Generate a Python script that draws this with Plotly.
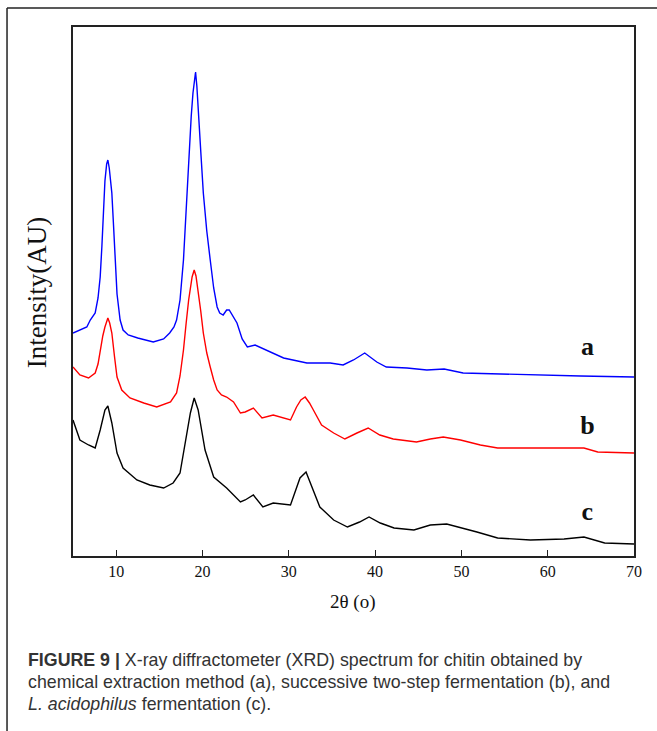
import plotly.graph_objects as go

# ---- data (2theta in degrees, intensity in arbitrary units) ----
theta_a = [5.0, 6.6, 7.0, 7.57, 7.9, 8.15, 8.35, 8.5, 8.7, 8.9, 9.04, 9.2, 9.35, 9.5, 9.7, 9.88,
           10.1, 10.46, 10.8, 11.4, 12.5, 14.3, 15.5, 16.2, 16.7, 17.0, 17.4, 17.8, 18.1, 18.4,
           18.7, 18.9, 19.1, 19.2, 19.35, 19.54, 19.8, 20.1, 20.5, 20.9, 21.3, 21.7, 22.0, 22.4,
           22.8, 23.1, 23.5, 24.0, 24.6, 25.2, 26.1, 27.45, 29.4, 32.1, 34.8, 36.3, 37.5, 38.8,
           40.2, 41.3, 43.7, 46.0, 48.0, 50.2, 58.0, 63.8, 70.0]
int_a = [223, 229, 236, 243, 258, 279, 310, 346, 375, 392, 396, 388, 375, 363, 330, 296,
         262, 236, 226, 221, 218, 214, 217, 223, 229, 236, 256, 296, 345, 396,
         440, 463, 482, 484, 470, 446, 405, 363, 325, 296, 268, 249, 243, 241,
         246, 246, 240, 233, 217, 209, 211, 206, 198, 193, 193, 191, 196, 203,
         194, 189, 188, 186, 187, 183, 181, 180, 179]

theta_b = [5.0, 5.8, 6.8, 7.57, 7.9, 8.15, 8.45, 8.7, 9.04, 9.25, 9.5, 9.8, 10.1, 10.65, 11.6,
           13.2, 14.7, 16.3, 17.0, 17.4, 17.8, 18.1, 18.4, 18.8, 19.04, 19.25, 19.5, 19.8, 20.1,
           20.5, 20.9, 21.3, 21.7, 22.2, 22.8, 23.6, 24.4, 24.95, 25.9, 26.9, 28.2, 29.4, 30.2,
           30.9, 31.4, 31.9, 32.4, 32.85, 33.8, 35.2, 36.5, 37.9, 39.2, 40.55, 42.1, 44.8, 46.4,
           47.9, 49.9, 52.2, 54.2, 58.0, 64.2, 65.8, 70.0]
int_b = [189, 181, 178, 183, 192, 206, 220, 229, 238, 233, 223, 200, 179, 166, 158,
         153, 149, 154, 163, 180, 206, 232, 256, 279, 286, 280, 266, 245, 223,
         203, 189, 176, 166, 161, 159, 154, 143, 144, 148, 138, 141, 138, 136,
         149, 156, 159, 153, 146, 131, 123, 117, 123, 128, 121, 117, 114, 117,
         119, 116, 111, 108, 108, 108, 104, 103]

theta_c = [5.0, 5.8, 6.8, 7.57, 8.15, 8.7, 9.04, 9.5, 10.1, 10.8, 12.4, 13.9, 15.5, 16.6, 17.4,
           18.0, 18.6, 19.04, 19.5, 20.3, 21.3, 22.8, 24.0, 24.4, 24.95, 25.9, 27.0, 28.2, 30.2,
           30.7, 31.3, 32.0, 32.7, 33.6, 35.2, 36.8, 38.2, 39.3, 40.6, 42.2, 44.5, 46.4, 48.3,
           50.2, 51.8, 54.2, 58.0, 61.9, 64.2, 66.6, 70.0]
int_c = [136, 116, 111, 108, 126, 146, 150, 133, 103, 88, 76, 71, 68, 73, 83,
         113, 143, 158, 146, 106, 79, 68, 58, 54, 56, 61, 49, 53, 51,
         63, 78, 84, 69, 49, 36, 29, 34, 39, 33, 28, 26, 31, 32,
         28, 24, 18, 16, 17, 19, 13, 12]

series_labels = ["a", "b", "c"]
label_theta = [64.6, 64.6, 64.6]
label_int = [208, 129, 43]
x_ticks = [10, 20, 30, 40, 50, 60, 70]

colors = ["#0000ff", "#ff0000", "#000000"]

fig = go.Figure()
for th, iv, col in [(theta_a, int_a, colors[0]), (theta_b, int_b, colors[1]), (theta_c, int_c, colors[2])]:
    fig.add_trace(go.Scatter(x=th, y=iv, mode="lines", line=dict(color=col, width=1.4),
                             hoverinfo="skip", showlegend=False))

serif = "Liberation Serif, Times New Roman, serif"
fig.add_trace(go.Scatter(x=label_theta, y=label_int, mode="text", text=series_labels,
                         texttemplate="<b>%{text}</b>",
                         textfont=dict(family=serif, size=26, color="#111"),
                         textposition="middle center", hoverinfo="skip", showlegend=False))

fig.update_layout(
    width=657, height=731,
    margin=dict(l=73, r=23, t=27, b=175),
    paper_bgcolor="white", plot_bgcolor="white",
    showlegend=False,
)
fig.update_xaxes(range=[5, 70], tickvals=x_ticks, ticks="inside", ticklen=6, tickwidth=1.2,
                 tickcolor="#222", showline=True, linecolor="#222", linewidth=1.5, mirror=True,
                 showgrid=False, zeroline=False,
                 tickfont=dict(family=serif, size=16, color="#111"))
fig.update_yaxes(range=[0, 529], showticklabels=False, ticks="", showline=True, linecolor="#222",
                 linewidth=1.5, mirror=True, showgrid=False, zeroline=False)

annotations = [
    dict(text="Intensity(AU)", x=-0.064, y=0.497, xref="paper", yref="paper", textangle=-90,
         showarrow=False, xanchor="center", yanchor="middle",
         font=dict(family=serif, size=27, color="#111")),
    dict(text="2θ (o)", x=0.499, y=-0.087, xref="paper", yref="paper", showarrow=False,
         xanchor="center", yanchor="middle", font=dict(family=serif, size=19, color="#111")),
]
cap_font = dict(family="Liberation Sans, Arial, sans-serif", size=17.8, color="#333")
cap_lines = [
    "<b>FIGURE 9 |</b> X-ray diffractometer (XRD) spectrum for chitin obtained by",
    "chemical extraction method (a), successive two-step fermentation (b), and",
    "<i>L. acidophilus</i> fermentation (c).",
]
cap_y = [-0.1975, -0.2391, -0.2798]
for t, yy in zip(cap_lines, cap_y):
    annotations.append(dict(text=t, x=-0.0838, y=yy, xref="paper", yref="paper", showarrow=False,
                            xanchor="left", yanchor="middle", font=cap_font))
fig.update_layout(annotations=annotations)

fig.add_shape(type="line", xref="paper", yref="paper", x0=-0.1176, y0=1.0359, x1=1.05, y1=1.0359,
              line=dict(color="#222", width=1.5))
fig.add_shape(type="line", xref="paper", yref="paper", x0=-0.1176, y0=1.0359, x1=-0.1176, y1=-0.34,
              line=dict(color="#222", width=1.5))

fig.write_html("out.html")
